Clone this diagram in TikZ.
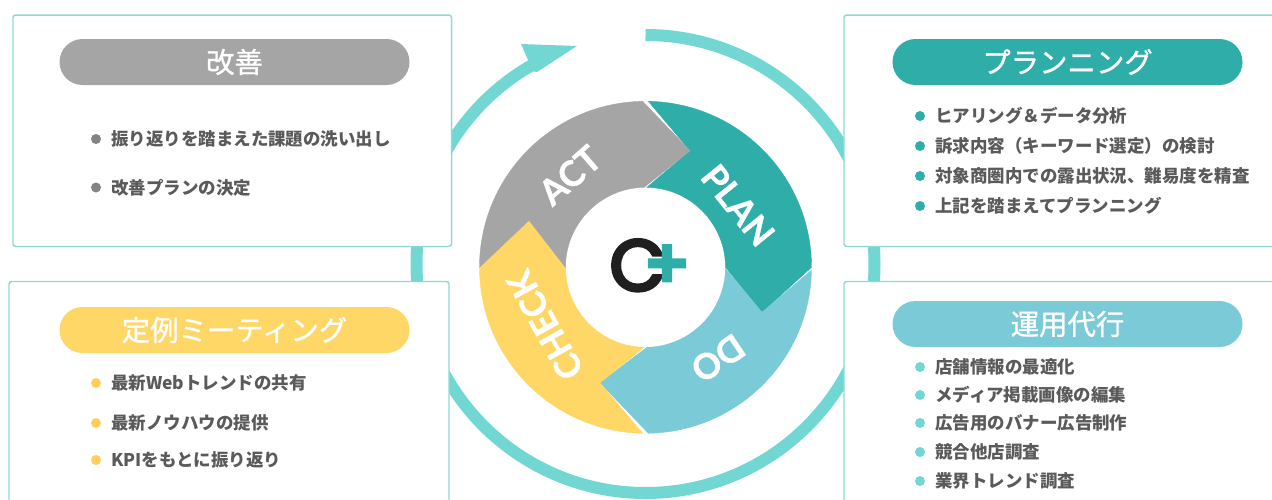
\documentclass[tikz,border=0pt]{standalone}
\usepackage{fontspec}
\usepackage{xcolor}
\usetikzlibrary{positioning}
\newfontfamily\cjk{Noto Sans CJK JP}
\newfontfamily\cjktitle[FakeBold=1]{Noto Sans CJK JP}
\newfontfamily\wheelfont[FakeBold=1]{Lato}
\newfontfamily\logofont[FakeBold=4.7]{Poppins}
\newfontfamily\plusfont[FakeBold=7.5]{Poppins}
\definecolor{ringteal}{HTML}{72D7D3}
\definecolor{panelline}{HTML}{8FD9D5}
\definecolor{planteal}{HTML}{2FADA9}
\definecolor{doblue}{HTML}{7ACAD7}
\definecolor{checkgold}{HTML}{FFD766}
\definecolor{actgray}{HTML}{A5A5A5}
\definecolor{itemtext}{HTML}{5A5A5A}
\tikzset{
  panelbox/.style={draw=panelline, fill=white, line width=1.1pt, rounded corners=2pt, inner sep=0pt},
  titlepill/.style={rounded corners=17.25pt, minimum width=262.5pt, minimum height=34.5pt, inner sep=0pt, text=white, font=\cjktitle\fontsize{21.3}{22}\selectfont},
  itemdot/.style={circle, minimum size=7.5pt, inner sep=0pt},
  itemlabel/.style={anchor=west, inner sep=0pt, text=itemtext, font=\cjk\bfseries\fontsize{13.1}{13}\selectfont},
  wheellabel/.style={text=white, font=\wheelfont\bfseries\fontsize{26.5}{27}\selectfont},
  wheelpart/.style={draw=#1, fill=#1, line width=0.3pt}
}
\begin{document}
\begin{tikzpicture}[x=0.75pt,y=-0.75pt]
  \path[use as bounding box, clip] (0,0) rectangle (1272,500);

  % outer cycle arrow
  \draw[ringteal, line width=9pt] (645.5,35) arc[start angle=-90, end angle=240, radius=229];
  \fill[ringteal] (521,44) -- (577,46) -- (537,72) -- (524,70) -- (528,60) -- cycle;

  % panels
  \node[panelbox, minimum width=328.9pt, minimum height=173.6pt] (panelact) at (232.25,130.75) {};
  \node[panelbox, minimum width=334.5pt, minimum height=173.6pt] (panelplan) at (1067,130.75) {};
  \node[panelbox, minimum width=330pt, minimum height=178.9pt] (panelcheck) at (229,400.75) {};
  \node[panelbox, minimum width=334.5pt, minimum height=178.9pt] (paneldo) at (1067,400.75) {};

  \node[titlepill, fill=actgray] (titleact) at (234.5,62) {改善};
  \node[titlepill, fill=planteal] (titleplan) at (1067.5,62) {プランニング};
  \node[titlepill, fill=checkgold] (titlecheck) at (234.5,330) {定例ミーティング};
  \node[titlepill, fill=doblue] (titledo) at (1067.5,324) {運用代行};

  % lists
  \foreach \yy/\itemname in {139/振り返りを踏まえた課題の洗い出し, 187.5/改善プランの決定} {
    \node[itemdot, fill=actgray!80!black] (dot\yy) at (96,\yy) {};
    \node[itemlabel] (item\yy) at (111,\yy) {\itemname};
  }
  \foreach \yy/\itemname in {116/ヒアリング＆データ分析, 146/訴求内容（キーワード選定）の検討, 176/対象商圏内での露出状況、難易度を精査, 206/上記を踏まえてプランニング} {
    \node[itemdot, fill=planteal] (dot\yy) at (920,\yy) {};
    \node[itemlabel] (item\yy) at (935,\yy) {\itemname};
  }
  \foreach \yy/\itemname in {383/最新Webトレンドの共有, 423/最新ノウハウの提供, 460/KPIをもとに振り返り} {
    \node[itemdot, fill=checkgold!90!orange] (dot\yy) at (96,\yy) {};
    \node[itemlabel] (item\yy) at (111,\yy) {\itemname};
  }
  \foreach \yy/\itemname in {367/店舗情報の最適化, 395/メディア掲載画像の編集, 423/広告用のバナー広告制作, 452/競合他店調査, 481/業界トレンド調査} {
    \node[itemdot, fill=ringteal] (dot\yy) at (920,\yy) {};
    \node[itemlabel] (item\yy) at (935,\yy) {\itemname};
  }

  % wheel
  \begin{scope}[shift={(645.5,267.3)}]
    \path[wheelpart=planteal] (-89:166) arc[start angle=-89, end angle=0, radius=166] -- (116.5,45) -- (0:80) arc[start angle=0, end angle=-89, radius=80] -- (44.5,-116.5) -- cycle;
    \path[wheelpart=doblue] (1:166) arc[start angle=1, end angle=89, radius=166] -- (-45.5,115.5) -- (89:80) arc[start angle=89, end angle=1, radius=80] -- (116.5,45) -- cycle;
    \path[wheelpart=checkgold] (91:166) arc[start angle=91, end angle=180, radius=166] -- (-116.5,-47) -- (180:80) arc[start angle=180, end angle=91, radius=80] -- (-45.5,115.5) -- cycle;
    \path[wheelpart=actgray] (180:166) arc[start angle=180, end angle=269, radius=166] -- (44.5,-116.5) -- (269:80) arc[start angle=269, end angle=180, radius=80] -- (-116.5,-47) -- cycle;

    \node[wheellabel, rotate=-51] (labelplan) at (92.5,-62) {PLAN};
    \node[wheellabel, rotate=214] (labeldo) at (72.5,91) {DO};
    \node[wheellabel, rotate=119] (labelcheck) at (-100.5,58) {CHECK};
    \node[wheellabel, rotate=41] (labelact) at (-75.5,-92) {ACT};

    \node[text=black!88, font=\logofont\fontsize{54}{54}\selectfont, inner sep=0pt] (logoc) at (-8,-2) {C};
    \node[text=planteal, font=\plusfont\fontsize{49}{49}\selectfont, inner sep=0pt] (logoplus) at (21.5,-0.4) {+};
  \end{scope}
\end{tikzpicture}
\end{document}
